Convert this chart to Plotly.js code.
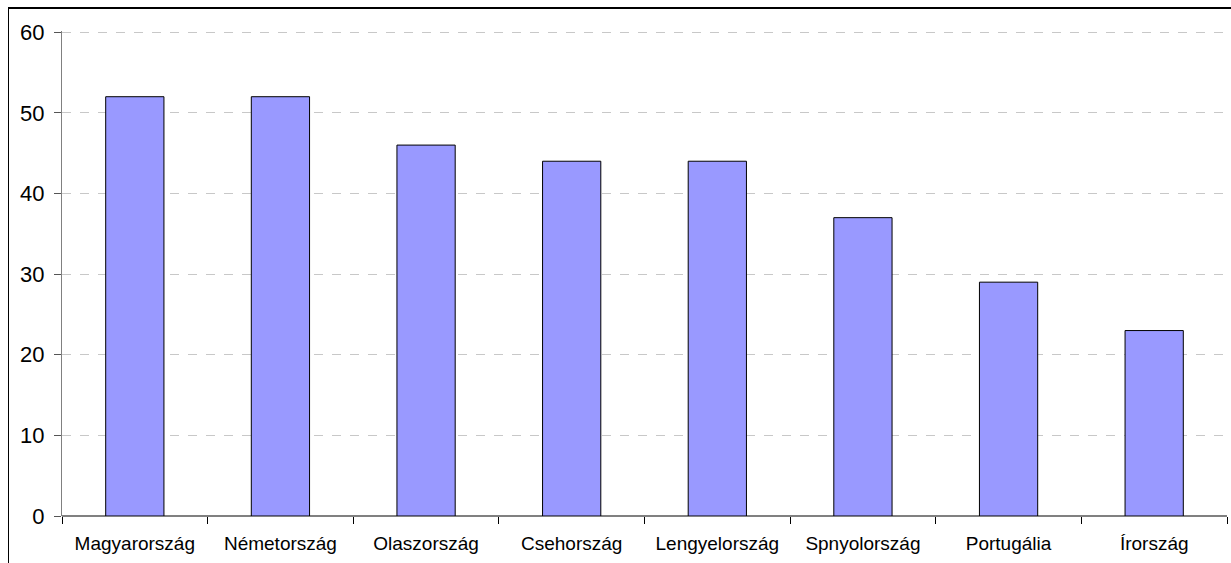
<!DOCTYPE html>
<html>
<head>
<meta charset="utf-8">
<script src="https://cdn.plot.ly/plotly-3.0.1.min.js"></script>
<style>
html,body{margin:0;padding:0;background:#fff;}
#chart{width:1231px;height:563px;position:absolute;left:0;top:0;}
#frame{position:absolute;left:8px;top:7px;width:1230px;height:560px;border-top:2px solid #000;border-left:1px solid #000;pointer-events:none;}
</style>
</head>
<body>
<div id="chart"></div>
<div id="frame"></div>
<script>
const categories = ["Magyarország","Németország","Olaszország","Csehország","Lengyelország","Spnyolország","Portugália","Írország"];
const values = [52, 52, 46, 44, 44, 37, 29, 23];
const yTicks = [0, 10, 20, 30, 40, 50, 60];

const trace = {
  type: "bar",
  x: categories,
  y: values,
  width: 0.4,
  marker: {color: "#9999FF", line: {color: "#000000", width: 1}},
  hoverinfo: "x+y"
};

const layout = {
  width: 1231, height: 563,
  margin: {l: 62, r: 4, t: 31, b: 47, pad: 0},
  paper_bgcolor: "#ffffff",
  plot_bgcolor: "#ffffff",
  showlegend: false,
  font: {family: "Liberation Sans, Arial, sans-serif", color: "#000"},
  bargap: 0.6,
  xaxis: {
    type: "category",
    range: [-0.5, 7.5],
    showgrid: false,
    zeroline: false,
    showline: false,
    ticks: "outside",
    tickson: "boundaries",
    ticklen: 7,
    tickwidth: 1,
    tickcolor: "#000",
    ticklabelstandoff: 14,
    tickfont: {size: 19, family: "Liberation Sans, Arial, sans-serif"},
    fixedrange: true
  },
  yaxis: {
    range: [0, 60.15],
    tickvals: yTicks,
    ticktext: yTicks.map(String),
    showgrid: true,
    gridcolor: "#c8c8c8",
    griddash: "dash",
    gridwidth: 1,
    zeroline: true,
    zerolinecolor: "#808080",
    zerolinewidth: 2,
    showline: true,
    linecolor: "#808080",
    linewidth: 1,
    ticks: "outside",
    ticklen: 7,
    tickcolor: "#555",
    ticklabelstandoff: 5,
    tickfont: {size: 22, family: "Liberation Sans, Arial, sans-serif"},
    fixedrange: true
  }
};

Plotly.newPlot("chart", [trace], layout, {displayModeBar: false, staticPlot: true});
</script>
</body>
</html>
